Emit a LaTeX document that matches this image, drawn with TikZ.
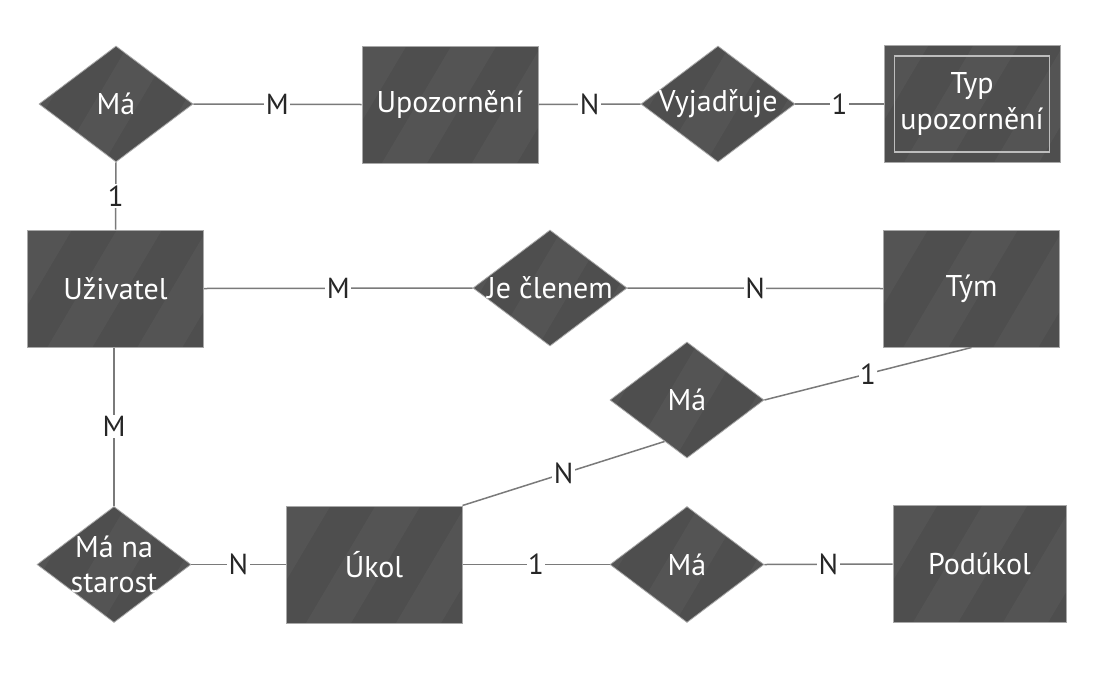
\documentclass[tikz,border=0pt]{standalone}
\usepackage{fontspec}
\setmainfont{PT Sans}
\usetikzlibrary{shapes.geometric,calc}
\definecolor{boxfill}{HTML}{4E4E4E}
\definecolor{boxline}{HTML}{A8A8A8}
\definecolor{innerline}{HTML}{BDBDBD}
\definecolor{connc}{HTML}{7A7A7A}
\definecolor{lbl}{HTML}{262626}
\tikzset{
  stripes/.style={path picture={
    \foreach \d in {-70,20,110} {
      \fill[white,opacity=0.04] ($(path picture bounding box.south west)+(\d,0)$)
        -- ++(45,0) -- ++(80,-135) -- ++(-45,0) -- cycle;
    }}},
  entity/.style={rectangle, draw=boxline, line width=1pt, fill=boxfill, stripes,
    minimum width=176pt, minimum height=117pt, text=white,
    font=\fontsize{30}{36}\selectfont, align=center, inner sep=0pt},
  reltext/.style={text=white, font=\fontsize{30}{35}\selectfont, align=center, inner sep=0pt},
  rel/.style={diamond, draw=boxline, line width=0.8pt, fill=boxfill, stripes,
    minimum width=154pt, minimum height=116pt, inner sep=0pt,
    label={[reltext]center:#1}},
  connector/.style={draw=connc, line width=1.5pt},
  card/.style={fill=white, text=lbl, font=\fontsize{29}{30}\selectfont, inner sep=1.5pt},
}
\begin{document}
\begin{tikzpicture}[x=1pt,y=-1pt]
\useasboundingbox[fill=white] (0,0) rectangle (1108,691);
% entities
\node[entity] (upoz) at (450,104.5) {Upozornění};
\node[entity] (typ) at (972,104) {Typ\\upozornění};
\node[entity] (uziv) at (115.5,288.5) {Uživatel};
\node[entity] (tym) at (971.5,288.5) {Tým};
\node[entity] (ukol) at (374,564.5) {Úkol};
\node[entity, minimum width=173pt] (podukol) at (979.5,564) {Podúkol};
\draw[draw=innerline, line width=1.5pt] ($(typ.north west)+(11,11)$) rectangle ($(typ.south east)+(-11,-11)$);
% relationships
\node[rel=Má] (ma1) at (116,104) {};
\node[rel=Vyjadřuje] (vyj) at (718,104) {};
\node[rel={Je členem}] (jecl) at (550,288) {};
\node[rel=Má] (ma2) at (687,400) {};
\node[rel={Má na\\starost}] (mans) at (114,564.5) {};
\node[rel=Má] (ma3) at (687,564.5) {};
\coordinate (ma2sw) at ($(ma2.west)!0.71!(ma2.south)$);
% connectors
\draw[connector] (ma1.east) -- node[card]{M} (upoz.west);
\draw[connector] (upoz.east) -- node[card]{N} (vyj.west);
\draw[connector] (vyj.east) -- node[card]{1} (typ.west);
\draw[connector] (ma1.south) -- node[card]{1} (uziv.north);
\draw[connector] (uziv.east) -- node[card]{M} (jecl.west);
\draw[connector] (jecl.east) -- node[card]{N} (tym.west);
\draw[connector] (mans.north |- uziv.south) -- node[card]{M} (mans.north);
\draw[connector] (mans.east) -- node[card]{N} (ukol.west);
\draw[connector] (ukol.east) -- node[card]{1} (ma3.west);
\draw[connector] (ma3.east) -- node[card]{N} (podukol.west);
\draw[connector] (tym.south) -- node[card]{1} (ma2.east);
\draw[connector] (ukol.north east) -- node[card]{N} (ma2sw);
\end{tikzpicture}
\end{document}
